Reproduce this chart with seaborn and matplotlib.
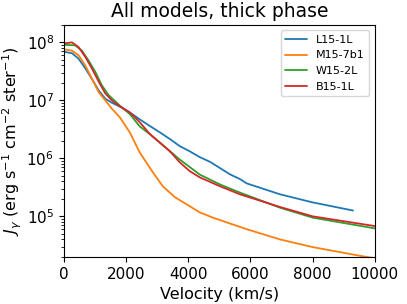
import matplotlib
matplotlib.use("Agg")
import matplotlib.pyplot as plt
import pandas as pd
import seaborn as sns

# values (velocity in km/s, J_gamma)
vel_l15 = [0, 260, 470, 690, 900, 1120, 1330, 1540, 1800, 2120, 2440, 2770,
           3090, 3410, 3730, 4050, 4370, 4700, 5020, 5340, 5660, 5880, 6950,
           8000, 9300]
j_l15 = [6.9e7, 6.5e7, 5.25e7, 3.55e7, 2.35e7, 1.48e7, 1.07e7, 9.1e6, 7.8e6,
         6.2e6, 4.7e6, 3.6e6, 2.8e6, 2.15e6, 1.62e6, 1.32e6, 1.05e6, 8.7e5,
         6.8e5, 5.3e5, 4.4e5, 3.7e5, 2.4e5, 1.74e5, 1.26e5]

vel_m15 = [0, 260, 470, 690, 900, 1120, 1330, 1540, 1800, 2120, 2440, 2860,
           3180, 3570, 4370, 4790, 5880, 6950, 8000, 9600, 10000]
j_m15 = [7.6e7, 7.2e7, 6.0e7, 4.0e7, 2.35e7, 1.38e7, 1.0e7, 7.2e6, 5.1e6,
         2.8e6, 1.26e6, 5.75e5, 3.3e5, 2.14e5, 1.17e5, 9.5e4, 6.0e4, 4.0e4,
         2.95e4, 2.05e4, 1.9e4]

vel_w15 = [0, 360, 580, 790, 1010, 1220, 1440, 1800, 2120, 2440, 2770, 3090,
           3730, 4370, 5020, 5660, 6950, 8000, 10000]
j_w15 = [9.1e7, 8.9e7, 7.2e7, 4.9e7, 3.1e7, 1.82e7, 1.23e7, 8.1e6, 5.8e6,
         3.55e6, 2.6e6, 1.86e6, 9.5e5, 5.25e5, 3.55e5, 2.57e5, 1.41e5, 9.5e4,
         6.2e4]

vel_b15 = [0, 260, 470, 690, 900, 1120, 1330, 1540, 1800, 2120, 2440, 2770,
           3090, 3410, 3730, 4050, 4370, 5020, 5660, 6950, 8000, 10000]
j_b15 = [9.6e7, 1.0e8, 8.3e7, 5.6e7, 3.55e7, 2.1e7, 1.32e7, 1.0e7, 7.9e6,
         6.2e6, 4.2e6, 2.6e6, 1.86e6, 1.32e6, 8.5e5, 6.0e5, 4.7e5, 3.3e5,
         2.4e5, 1.45e5, 1.0e5, 6.8e4]

models = ["L15-1L", "M15-7b1", "W15-2L", "B15-1L"]
series = [(vel_l15, j_l15), (vel_m15, j_m15), (vel_w15, j_w15), (vel_b15, j_b15)]

frames = []
for name, (v, j) in zip(models, series):
    frames.append(pd.DataFrame({"velocity": v, "J": j, "model": name}))
df = pd.concat(frames, ignore_index=True)

sns.set_style("ticks")
plt.rcParams["font.family"] = ["DejaVu Sans"]
for key in ["text.color", "axes.labelcolor", "xtick.color", "ytick.color",
            "axes.edgecolor"]:
    plt.rcParams[key] = "black"

fig = plt.figure(figsize=(4.07, 3.04), dpi=100)
ax = fig.add_axes([0.157, 0.155, 0.764, 0.763])

palette = ["#1f77b4", "#ff7f0e", "#2ca02c", "#d62728"]
sns.lineplot(data=df, x="velocity", y="J", hue="model", hue_order=models,
             palette=palette, sort=False, estimator=None, linewidth=1.3, ax=ax)

ax.set_yscale("log")
ax.set_xlim(0, 10000)
ax.set_ylim(2e4, 2e8)
ax.set_title("All models, thick phase", fontsize=13.5)
ax.set_xlabel("Velocity (km/s)", fontsize=11.5)
ax.set_ylabel(r"$J_\gamma$ (erg s$^{-1}$ cm$^{-2}$ ster$^{-1}$)", fontsize=11.5,
              labelpad=2)
ax.tick_params(axis="both", which="major", labelsize=11, length=3.5, width=0.8)
ax.tick_params(axis="y", which="minor", length=2, width=0.6)
for s in ax.spines.values():
    s.set_linewidth(0.8)

ax.legend(loc="upper right", fontsize=8, title=None)

fig.savefig("out.png", dpi=100)
